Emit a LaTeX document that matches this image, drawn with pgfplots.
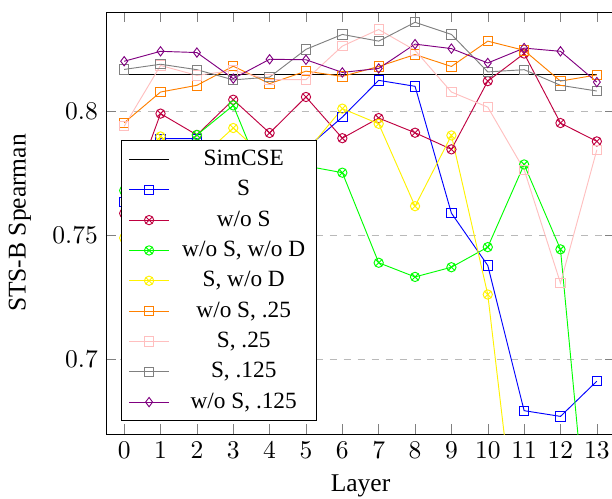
\documentclass[border=0pt]{standalone}
\usepackage{fontspec}
\setmainfont{Liberation Serif}
\usepackage{pgfplots}
\pgfplotsset{compat=1.18}

\begin{document}
\begin{tikzpicture}
\begin{axis}[
  name=main,
  scale only axis,
  width=218.5pt, height=181.1pt,
  xmin=-0.5, xmax=13.5,
  ymin=0.67, ymax=0.84,
  xtick={0,...,13},
  ytick={0.7,0.75,0.8},
  ymajorgrids,
  major grid style={dashed, gray!55},
  tick style={gray},
  xlabel={Layer},
  ylabel={STS-B Spearman},
  xlabel style={at={(axis description cs:0.5,-0.123)}, anchor=center},
  ylabel style={at={(axis description cs:-0.169,0.5)}, anchor=center},
  label style={font=\fontsize{10.95}{13.6}\selectfont},
  tick label style={font=\fontsize{10.95}{13.6}\selectfont},
  legend style={at={(0.03,0.03)}, anchor=south west,
    font=\fontsize{10}{12}\selectfont,
    row sep=0.9pt, column sep=3.5pt},
  legend cell align=center,
]
% SimCSE baseline
\addplot[black, no markers] coordinates {(0,0.815) (13,0.815)};
\addlegendentry{SimCSE}

\addplot[blue, mark=square] coordinates {
 (0,0.7634) (1,0.789) (2,0.789) (3,0.780) (4,0.778) (5,0.785) (6,0.7977)
 (7,0.8125) (8,0.8101) (9,0.759) (10,0.7379) (11,0.6794) (12,0.6771) (13,0.6913)};
\addlegendentry{S}

\addplot[purple, mark=otimes] coordinates {
 (0,0.7589) (1,0.7991) (2,0.7905) (3,0.8047) (4,0.7913) (5,0.8058) (6,0.7892)
 (7,0.7973) (8,0.7914) (9,0.7847) (10,0.8122) (11,0.8233) (12,0.7953) (13,0.7879)};
\addlegendentry{w/o S}

\addplot[green, mark=otimes] coordinates {
 (0,0.7681) (1,0.775) (2,0.7905) (3,0.8024) (4,0.7667) (5,0.778) (6,0.7753)
 (7,0.739) (8,0.7333) (9,0.7372) (10,0.7453) (11,0.7786) (12,0.7444) (13,0.589)};
\addlegendentry{w/o S, w/o D}

\addplot[yellow, mark=otimes] coordinates {
 (0,0.749) (1,0.7899) (2,0.780) (3,0.7933) (4,0.780) (5,0.7836) (6,0.8011)
 (7,0.795) (8,0.7618) (9,0.7903) (10,0.7262) (11,0.6016) (12,0.59) (13,0.60)};
\addlegendentry{S, w/o D}

\addplot[orange, mark=square] coordinates {
 (0,0.7954) (1,0.8078) (2,0.8105) (3,0.8182) (4,0.8112) (5,0.8162) (6,0.8141)
 (7,0.8181) (8,0.8229) (9,0.8181) (10,0.8283) (11,0.8246) (12,0.8122) (13,0.8147)};
\addlegendentry{w/o S, .25}

\addplot[pink, mark=square] coordinates {
 (0,0.794) (1,0.8185) (2,0.8145) (3,0.8165) (4,0.8128) (5,0.8128) (6,0.8263)
 (7,0.833) (8,0.8246) (9,0.8078) (10,0.8017) (11,0.7765) (12,0.7308) (13,0.7845)};
\addlegendentry{S, .25}

\addplot[gray, mark=square] coordinates {
 (0,0.8169) (1,0.819) (2,0.8168) (3,0.8127) (4,0.8138) (5,0.825) (6,0.831)
 (7,0.8283) (8,0.8359) (9,0.831) (10,0.8159) (11,0.8168) (12,0.8105) (13,0.8082)};
\addlegendentry{S, .125}

\addplot[violet, mark=diamond] coordinates {
 (0,0.8202) (1,0.8242) (2,0.8237) (3,0.8132) (4,0.821) (5,0.8208) (6,0.8157)
 (7,0.8173) (8,0.8271) (9,0.8253) (10,0.8195) (11,0.8255) (12,0.8242) (13,0.8118)};
\addlegendentry{w/o S, .125}
\end{axis}
% page frame: labels on the left, axis frame running past the right edge
\pgfresetboundingbox
\path[use as bounding box]
  ([xshift=-45.5pt,yshift=-27.5pt]main.south west) rectangle
  ([xshift=217.2pt,yshift=186.3pt]main.south west);
\end{tikzpicture}
\end{document}
